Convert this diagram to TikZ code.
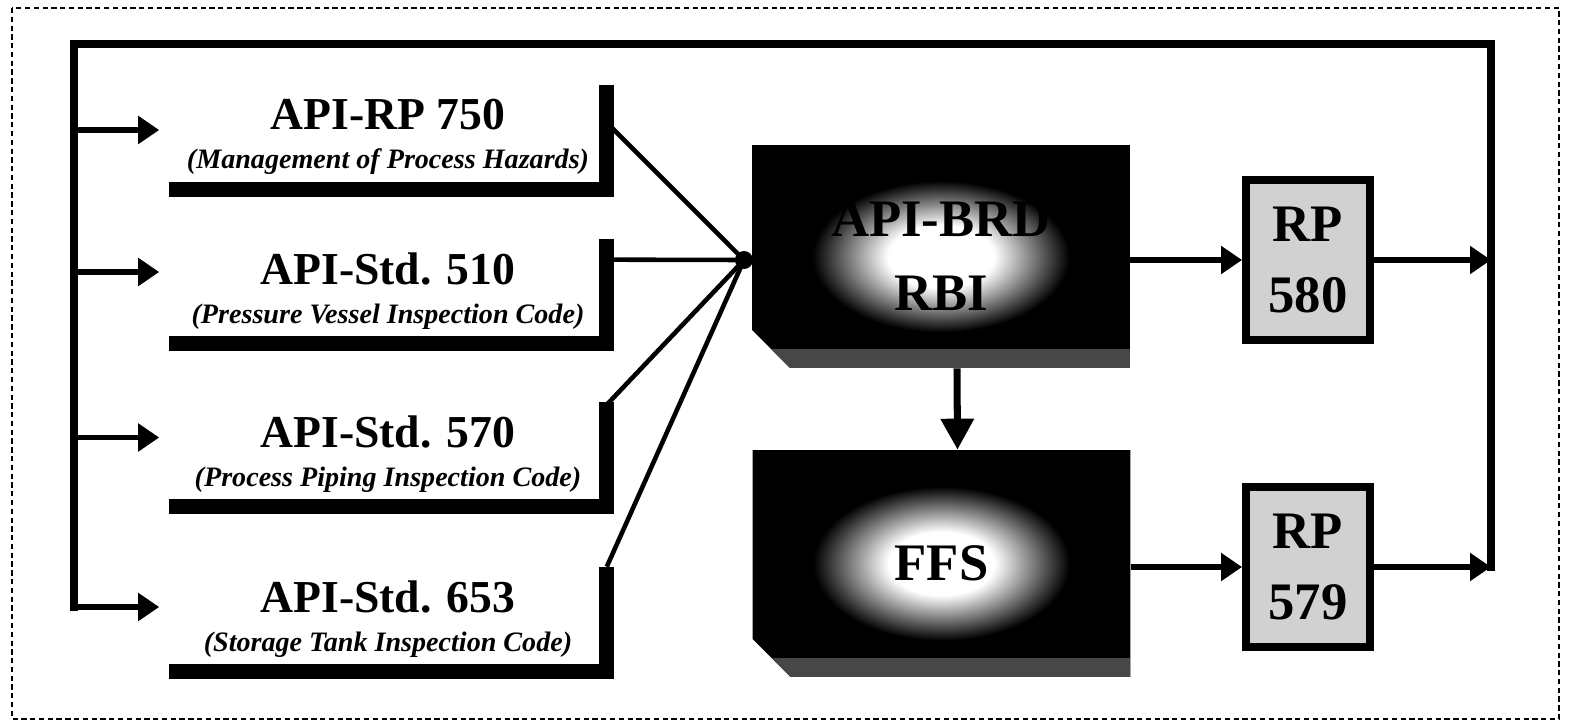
\documentclass[tikz,border=0pt]{standalone}
\usepackage{fontspec}
\setmainfont{Liberation Serif}
\usetikzlibrary{arrows.meta, positioning, shapes.misc, calc}
\pgfdeclareradialshading{glow}{\pgfpoint{0bp}{0bp}}{color(0bp)=(white); color(7bp)=(white); color(12bp)=(black!50); color(17bp)=(black); color(50bp)=(black)}
\newcommand{\stdtitle}[1]{{\fontsize{26}{22}\selectfont #1}}
\newcommand{\stdnote}[1]{{\itshape #1}}

\begin{document}
\begin{tikzpicture}[x=0.02cm, y=-0.02cm,
    srcbox/.style={minimum width=8.74cm, minimum height=2.08cm, inner sep=0pt, align=center, font=\fontsize{16}{22}\selectfont\bfseries},
    shadowbar/.style={line width=8.5pt, line join=miter},
    loopline/.style={line width=4.5pt, line cap=rect},
    feed/.style={line width=3.4pt, -{Triangle[length=0.42cm, width=0.54cm]}},
    tap/.style={line width=2.6pt},
    drop/.style={line width=4pt, -{Triangle[length=0.62cm, width=0.64cm]}},
    glowbox/.style={chamfered rectangle, chamfered rectangle corners=south west, chamfered rectangle sep=0.38cm, fill=black, minimum width=7.56cm, align=center, font=\fontsize{30}{42}\selectfont\bfseries,
      path picture={
        \shade[shading=glow] ([xshift=-2.7cm, yshift=1.75cm]path picture bounding box.center) rectangle ([xshift=3.05cm, yshift=-1.55cm]path picture bounding box.center);
        \fill[black!72] (path picture bounding box.south west) rectangle ([yshift=0.38cm]path picture bounding box.south east);
      }},
    rpbox/.style={draw, line width=4.5pt, fill=black!18, minimum width=2.48cm, minimum height=3.2cm, inner sep=0pt, align=center, font=\fontsize{30}{40}\selectfont\bfseries}
  ]
    \useasboundingbox (0,0) rectangle (1569,724);
    \draw[densely dashed, line width=0.8pt] (12,8) rectangle (1559,719);

    % input standards with shadow frames
    \node[srcbox] (rp750) at (388,137) {\stdtitle{API-RP 750}\\\stdnote{(Management of Process Hazards)}};
    \node[srcbox] (std510) at (388,291) {\stdtitle{API-Std. 510}\\\stdnote{(Pressure Vessel Inspection Code)}};
    \node[srcbox] (std570) at (388,454) {\stdtitle{API-Std. 570}\\\stdnote{(Process Piping Inspection Code)}};
    \node[srcbox] (std653) at (388,619) {\stdtitle{API-Std. 653}\\\stdnote{(Storage Tank Inspection Code)}};

    % RBI and FFS blocks
    \node[glowbox, minimum height=4.46cm] (brd) at (941,256.5) {API-BRD\\RBI};
    \node[glowbox, minimum height=4.54cm] (ffs) at (941.5,563.5) {FFS};

    % recommended practices
    \node[rpbox] (rp580) at (1308,260) {RP\\580};
    \node[rpbox] (rp579) at (1308,567) {RP\\579};

    % feedback loop
    \coordinate (loopW) at (74,44);
    \coordinate (loopE) at (1491,44);
    \coordinate (hub) at (744,260);

    % lines into the hub
    \draw[tap] ([yshift=-0.76cm]rp750.north east) -- (hub);
    \draw[tap] ([yshift=-0.42cm]std510.north east) -- (hub);
    \draw[tap] ([yshift=-0.06cm]std570.north east) -- (hub);
    \draw[tap] (std653.north east) -- (hub);
    \fill (hub) circle (9);
    \draw[tap] (hub) -- (brd.west |- hub);

    % shadow frames drawn over the line ends
    \foreach \b in {rp750, std510, std570, std653} {
      \draw[shadowbar] (\b.north east) |- (\b.south west);
    }

    % arrows from the loop to the standards
    \foreach \b/\s/\n in {rp750/0.14/1, std510/0.38/2, std570/0.33/3, std653/0.24/4} {
      \coordinate (in\n) at ([xshift=-0.2cm, yshift=\s cm]\b.west);
      \draw[feed] (loopW |- in\n) -- (in\n);
    }
    \draw[loopline] (loopE |- rp579.east) -- (loopE) -- (loopW) -- (loopW |- in4);

    % flow on the right side
    \draw[drop] ([xshift=0.32cm]brd.south) -- ([xshift=0.32cm]ffs.north);
    \draw[feed] (brd.east |- rp580.west) -- (rp580.west);
    \draw[feed] (ffs.east |- rp579.west) -- (rp579.west);
    \draw[feed] (rp580.east) -- (rp580.east -| loopE);
    \draw[feed] (rp579.east) -- (rp579.east -| loopE);
\end{tikzpicture}
\end{document}
